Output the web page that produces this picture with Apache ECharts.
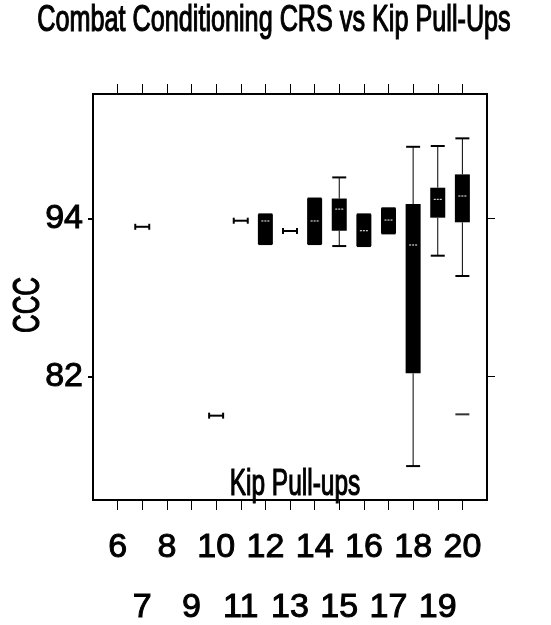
<!DOCTYPE html>
<html>
<head>
<meta charset="utf-8">
<script src="https://cdn.jsdelivr.net/npm/echarts@6/dist/echarts.min.js"></script>
<style>
  html, body { margin: 0; padding: 0; background: #fff; }
  #chart { width: 551px; height: 625px; }
</style>
</head>
<body>
<div id="chart"></div>
<script>
// categories on the x axis (5 and 21 are only padding at the frame edges)
var xCats = ['5', '6', '7', '8', '9', '10', '11', '12', '13', '14', '15', '16', '17', '18', '19', '20', '21'];
var yTicks = [82, 94];

// box stats per pull-up count
var pullUps   = [7,    10,    11,    12,    13,    14,    15,    16,    17,    18,    19,    20];
var lowWhisk  = [93.36, 79.05, 93.82, 92.05, 93.04, 92.05, 91.9,  91.9,  92.86, 75.23, 91.17, 89.63];
var q1        = [93.36, 79.05, 93.82, 92.05, 93.04, 92.05, 93.06, 91.9,  92.86, 82.26, 94.05, 93.7];
var median    = [93.36, 79.05, 93.82, 93.8,  93.04, 93.8,  94.7,  93.06, 93.87, 91.98, 95.44, 95.69];
var q3        = [93.36, 79.05, 93.82, 94.3,  93.04, 95.5,  95.5,  94.3,  94.76, 95.08, 96.32, 97.33];
var highWhisk = [93.36, 79.05, 93.82, 94.3,  93.04, 95.5,  97.1,  94.3,  94.76, 99.42, 99.48, 100.06];

// outliers
var outX = [20];
var outY = [79.15];

var boxData = pullUps.map(function (p, i) {
    return [String(p), lowWhisk[i], q1[i], median[i], q3[i], highWhisk[i]];
});
var outData = outX.map(function (p, i) { return [String(p), outY[i]]; });

var font = '"Liberation Sans", Arial, sans-serif';

function renderBox(params, api) {
    var x = api.value(0);
    var pMin = api.coord([x, api.value(1)]);
    var pQ1 = api.coord([x, api.value(2)]);
    var pMed = api.coord([x, api.value(3)]);
    var pQ3 = api.coord([x, api.value(4)]);
    var pMax = api.coord([x, api.value(5)]);
    var cx = pMin[0];
    var hw = 7;
    var thick = { stroke: '#000', lineWidth: 2 };
    var children = [];
    if (api.value(1) === api.value(5)) {
        // single value: |--|
        children.push({ type: 'line', shape: { x1: cx - hw, y1: pMin[1], x2: cx + hw, y2: pMin[1] }, style: thick });
        children.push({ type: 'line', shape: { x1: cx - hw, y1: pMin[1] - 3, x2: cx - hw, y2: pMin[1] + 3 }, style: thick });
        children.push({ type: 'line', shape: { x1: cx + hw, y1: pMin[1] - 3, x2: cx + hw, y2: pMin[1] + 3 }, style: thick });
        return { type: 'group', children: children };
    }
    children.push({ type: 'line', shape: { x1: cx, y1: pMax[1], x2: cx, y2: pQ3[1] }, style: { stroke: '#000', lineWidth: 1 } });
    children.push({ type: 'line', shape: { x1: cx, y1: pQ1[1], x2: cx, y2: pMin[1] }, style: { stroke: '#000', lineWidth: 1 } });
    children.push({ type: 'line', shape: { x1: cx - hw, y1: pMax[1], x2: cx + hw, y2: pMax[1] }, style: thick });
    children.push({ type: 'line', shape: { x1: cx - hw, y1: pMin[1], x2: cx + hw, y2: pMin[1] }, style: thick });
    children.push({ type: 'rect', shape: { x: cx - hw - 0.5, y: pQ3[1], width: 2 * hw + 1, height: pQ1[1] - pQ3[1] }, style: { fill: '#000' } });
    children.push({ type: 'line', shape: { x1: cx - hw + 3, y1: pMed[1], x2: cx + hw - 3, y2: pMed[1] }, style: { stroke: '#fff', lineWidth: 1, lineDash: [2, 1] } });
    return { type: 'group', children: children };
}

var chart = echarts.init(document.getElementById('chart'));
var tickShow = function (idx) { return idx > 0 && idx < xCats.length - 1; };
var labelStyle = { color: '#000', fontSize: 34, fontFamily: font, textBorderColor: '#000', textBorderWidth: 1 };
var option = {
    animation: false,
    backgroundColor: '#fff',
    grid: { left: 93, right: 64, top: 94, bottom: 125, outerBoundsMode: 'none', containLabel: false,
        show: true, borderColor: '#000', borderWidth: 2 },
    graphic: [{
        type: 'text', x: 274, y: 3, scaleX: 0.70,
        style: { text: 'Combat Conditioning CRS vs Kip Pull-Ups', fill: '#000', stroke: '#000', lineWidth: 1.2,
            font: '36px ' + font, textAlign: 'center', textVerticalAlign: 'top' }
    }, {
        type: 'text', x: 295, y: 503, scaleX: 0.68,
        style: { text: 'Kip Pull-ups', fill: '#000', stroke: '#000', lineWidth: 1.2,
            font: '36px ' + font, textAlign: 'center', textVerticalAlign: 'bottom' }
    }, {
        type: 'text', x: 29, y: 305, rotation: Math.PI / 2, scaleX: 0.72,
        style: { text: 'CCC', fill: '#000', stroke: '#000', lineWidth: 1.2,
            font: '36px ' + font, textAlign: 'center', textVerticalAlign: 'middle' }
    }],
    xAxis: [{
        type: 'category', data: xCats, boundaryGap: false, position: 'bottom',
        axisLine: { lineStyle: { color: '#000', width: 2 } },
        axisTick: { interval: tickShow, length: 10, inside: false, lineStyle: { color: '#000', width: 1 } },
        axisLabel: Object.assign({ interval: 0, margin: 31,
            formatter: function (v) { var n = +v; return (n >= 6 && n <= 20 && n % 2 === 0) ? v : ''; } }, labelStyle),
        splitLine: { show: false }
    }, {
        type: 'category', data: xCats, boundaryGap: false, position: 'bottom',
        axisLine: { show: false }, axisTick: { show: false },
        axisLabel: Object.assign({ interval: 0, margin: 91,
            formatter: function (v) { var n = +v; return (n >= 6 && n <= 20 && n % 2 === 1) ? v : ''; } }, labelStyle),
        splitLine: { show: false }
    }, {
        type: 'category', data: xCats, boundaryGap: false, position: 'top',
        axisLine: { lineStyle: { color: '#000', width: 2 } },
        axisTick: { interval: tickShow, length: 10, inside: false, lineStyle: { color: '#000', width: 1 } },
        axisLabel: { show: false }, splitLine: { show: false }
    }],
    yAxis: [{
        type: 'value', min: 72.66, max: 103.42, position: 'left',
        axisLine: { show: true, lineStyle: { color: '#000', width: 2 } },
        axisTick: { show: true, customValues: yTicks, length: 5, lineStyle: { color: '#000', width: 2 } },
        axisLabel: Object.assign({ customValues: yTicks, margin: 10 }, labelStyle),
        splitLine: { show: false }
    }, {
        type: 'value', min: 72.66, max: 103.42, position: 'right',
        axisLine: { show: true, lineStyle: { color: '#000', width: 1 } },
        axisTick: { show: true, customValues: yTicks, length: 8, lineStyle: { color: '#000', width: 1 } },
        axisLabel: { show: false },
        splitLine: { show: false }
    }],
    series: [{
        type: 'custom', xAxisIndex: 0, yAxisIndex: 0,
        renderItem: renderBox,
        encode: { x: 0, y: [1, 2, 3, 4, 5] },
        data: boxData
    }, {
        type: 'scatter', xAxisIndex: 0, yAxisIndex: 0,
        symbol: 'rect', symbolSize: [14, 2],
        itemStyle: { color: '#000' },
        data: outData
    }]
};
chart.setOption(option);
</script>
</body>
</html>
